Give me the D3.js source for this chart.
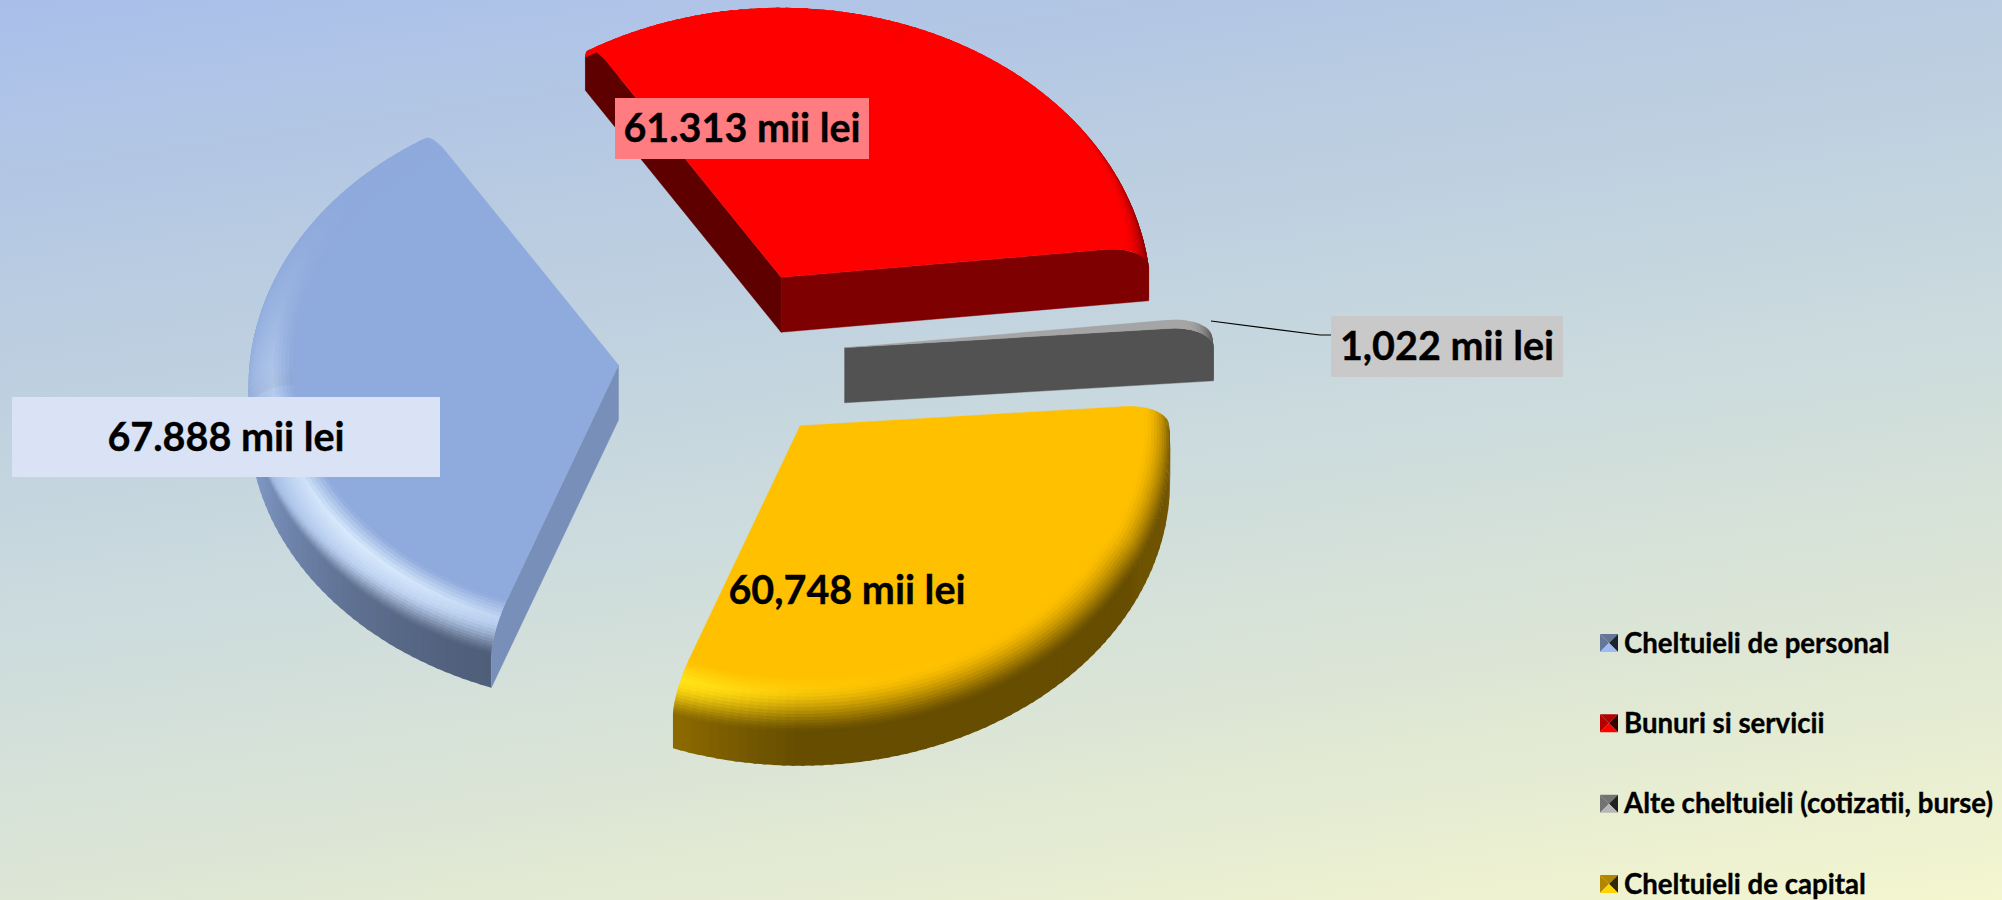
<!DOCTYPE html>
<html>
<head>
<meta charset="utf-8">
<script src="https://d3js.org/d3.v7.min.js"></script>
<style>
  html, body { margin: 0; padding: 0; overflow: hidden; }
  text { font-family: Lato, "Open Sans", sans-serif; font-weight: 700; fill: #000; stroke: #000; stroke-width: 0.35px; }
</style>
</head>
<body>
<svg id="mainsvg" width="2002" height="900"></svg>
<script>
const categories = ['Cheltuieli de personal', 'Bunuri si servicii', 'Alte cheltuieli (cotizatii, burse)', 'Cheltuieli de capital']
const values = [67.888, 61.313, 1.022, 60.748]
const valueLabels = ['67.888 mii lei', '61.313 mii lei', '1,022 mii lei', '60,748 mii lei']
const sliceColors = ['#8faadc', '#ff0000', '#a5a5a5', '#ffc000']
const labelFills = ['#dae3f5', '#ff7c80', '#c9c9c9', 'none']

const svg = d3.select('#mainsvg')
const width = +svg.attr('width')
const height = +svg.attr('height')

const rad = deg => deg * Math.PI / 180
const firstAngle = 200.1
const center = { x: 731.5, y: 356 }
const explode = 0.307
const rimStart = 0.88
const bevelDrop = 22
const depth = 55

// the pie is lying down: x and y radius differ
const rx = d3.scaleLinear().domain([0, 1]).range([0, 370])
const ry = d3.scaleLinear().domain([0, 1]).range([0, 285])

const pie = d3.pie().sort(null).startAngle(rad(firstAngle)).endAngle(rad(firstAngle + 360))
const slices = pie(values)
const line = d3.line()

const defs = svg.append('defs')
const bg = defs.append('linearGradient').attr('id', 'bg')
  .attr('gradientUnits', 'userSpaceOnUse')
  .attr('x1', 0).attr('y1', 0).attr('x2', 176).attr('y2', 1174)
bg.selectAll('stop')
  .data([[0, '#a9bfea'], [0.25, '#b9cce1'], [0.5, '#cadade'], [0.75, '#dde6d5'], [1, '#f4f6cf']])
  .join('stop')
  .attr('offset', d => d[0]).attr('stop-color', d => d[1])
svg.append('rect').attr('width', width).attr('height', height).attr('fill', 'url(#bg)')

function smooth(a, b, t) {
  const u = Math.max(0, Math.min(1, (t - a) / (b - a)))
  return u * u * (3 - 2 * u)
}

function project(d, angle, r, z) {
  const mid = (d.startAngle + d.endAngle) / 2
  const x = center.x + rx(explode * Math.sin(mid)) + rx(r * Math.sin(angle))
  const y = center.y - ry(explode * Math.cos(mid)) - ry(r * Math.cos(angle)) + z
  return [x, y]
}

function bevelColor(base, angle, t) {
  const dx = Math.sin(angle), dy = -Math.cos(angle)
  const w = Math.max(0, dx * -0.75 + dy * 0.66)
  const bump = t < 0.3 ? t / 0.3 : Math.pow((1 - t) / 0.7, 0.8)
  const hl = Math.pow(w, 3) * bump
  const weight = Math.min(1, Math.max(0, dx * 0.6 + dy, dx * 0.9 + dy * 0.3, dy * 0.8))
  const dk = weight * smooth(0.15 + (1 - weight) * 0.9, 1, t)
  const c = d3.rgb(base)
  const channel = v => {
    const lit = v + hl * 0.9 * (255 - v) * (v / 255 + 0.15)
    return lit * (1 - dk * 0.6)
  }
  return d3.rgb(channel(c.r), channel(c.g), channel(c.b)).formatHex()
}

function cutColor(base, nx) {
  const f = nx > 0.12 ? 0.5 + 0.415 * (nx - 0.12) : 0.5 + 0.13 * (nx - 0.12)
  const c = d3.rgb(base)
  return d3.rgb(c.r * f, c.g * f, c.b * f).formatHex()
}

const profile = d3.range(0, 19).map(i => i / 18 * Math.PI / 2)
const rimR = a => rimStart + (1 - rimStart) * Math.sin(a)
const rimZ = a => bevelDrop * (1 - Math.cos(a))

function angleSteps(d) {
  const n = Math.max(3, Math.ceil((d.endAngle - d.startAngle) / rad(1.5)))
  return d3.range(0, n + 1).map(i => d.startAngle + (d.endAngle - d.startAngle) * i / n)
}

function cutWall(d, angle) {
  const pts = [project(d, angle, 0, 0)]
  profile.forEach(a => pts.push(project(d, angle, rimR(a), rimZ(a))))
  pts.push(project(d, angle, 1, depth), project(d, angle, 0, depth))
  return pts
}

const pieG = svg.append('g').attr('id', 'pie')

slices.forEach((d, i) => {
  const base = sliceColors[i]
  const g = pieG.append('g')
  const steps = angleSteps(d)
  const pairs = d3.pairs(steps)
  // cells overlap the next one a little so no seams show
  const over = p => Math.min(d.endAngle, p + rad(0.6))

  // outer wall, it ends up behind the top on the far side
  g.selectAll('path.wall').data(pairs).join('path').attr('class', 'wall')
    .attr('d', p => line([project(d, p[0], 1, bevelDrop - 1), project(d, over(p[1]), 1, bevelDrop - 1),
      project(d, over(p[1]), 1, depth), project(d, p[0], 1, depth)]) + 'Z')
    .attr('fill', p => bevelColor(base, (p[0] + p[1]) / 2, 1))

  // cut faces, only those turned to the viewer
  const cuts = [
    { angle: d.startAngle, normal: d.startAngle - Math.PI / 2 },
    { angle: d.endAngle, normal: d.endAngle + Math.PI / 2 }
  ].filter(c => -Math.cos(c.normal) > 0)
  g.selectAll('path.cut').data(cuts).join('path').attr('class', 'cut')
    .attr('d', c => line(cutWall(d, c.angle)) + 'Z')
    .attr('fill', c => cutColor(base, Math.sin(c.normal)))
    .attr('stroke', c => cutColor(base, Math.sin(c.normal)))
    .attr('stroke-width', 0.4)

  // rounded rim, outer rings first
  const cells = []
  d3.pairs(profile).reverse().forEach(a => pairs.forEach(p => cells.push({ a0: a[0], a1: a[1], p0: p[0], p1: p[1] })))
  g.selectAll('path.rim').data(cells).join('path').attr('class', 'rim')
    .attr('d', c => {
      const a0 = c.a0 - 0.03
      return line([project(d, c.p0, rimR(a0), rimZ(a0)), project(d, over(c.p1), rimR(a0), rimZ(a0)),
        project(d, over(c.p1), rimR(c.a1), rimZ(c.a1)), project(d, c.p0, rimR(c.a1), rimZ(c.a1))]) + 'Z'
    })
    .attr('fill', c => bevelColor(base, (c.p0 + c.p1) / 2, (c.a0 + c.a1) / Math.PI))

  // flat top
  g.append('path')
    .attr('d', line([project(d, 0, 0, 0)].concat(steps.map(a => project(d, a, rimStart, 0)))) + 'Z')
    .attr('fill', base).attr('stroke', base).attr('stroke-width', 0.3)
})

// leader line of the small slice
svg.append('path')
  .attr('d', line([[1211, 321], [1320, 335], [1331, 335]]))
  .attr('fill', 'none').attr('stroke', '#000').attr('stroke-width', 1.2)

const labelBoxes = [
  { x: 12, y: 397, w: 428, h: 80 },
  { x: 615, y: 98, w: 254, h: 61 },
  { x: 1331, y: 316, w: 232, h: 61 },
  { x: 716, y: 560, w: 262, h: 61 }
]
const labels = svg.append('g').attr('id', 'labels').selectAll('g').data(valueLabels).join('g')
labels.append('rect')
  .attr('x', (d, i) => labelBoxes[i].x).attr('y', (d, i) => labelBoxes[i].y)
  .attr('width', (d, i) => labelBoxes[i].w).attr('height', (d, i) => labelBoxes[i].h)
  .attr('fill', (d, i) => labelFills[i])
labels.append('text')
  .attr('x', (d, i) => labelBoxes[i].x + labelBoxes[i].w / 2)
  .attr('y', (d, i) => labelBoxes[i].y + labelBoxes[i].h / 2)
  .attr('dy', '0.35em').attr('text-anchor', 'middle')
  .style('font-size', '39.5px')
  .text(d => d)

// legend, the keys are little pyramids
const legendY = d3.scalePoint().domain(categories).range([643, 884])
const legend = svg.append('g').attr('id', 'legend').selectAll('g').data(categories).join('g')
  .attr('transform', d => `translate(1600, ${legendY(d)})`)
const s = 9
const faces = [
  { pts: [[-s, -s], [s, -s], [0, 0]], f: 0.7 },
  { pts: [[-s, -s], [-s, s], [0, 0]], f: 0.7 },
  { pts: [[s, -s], [s, s], [0, 0]], f: 0.2 },
  { pts: [[-s, s], [s, s], [0, 0]], f: 1.1 }
]
legend.each(function (d, i) {
  const c = d3.rgb(sliceColors[i])
  d3.select(this).selectAll('path').data(faces).join('path')
    .attr('transform', `translate(${s}, 0)`)
    .attr('d', q => line(q.pts) + 'Z')
    .attr('fill', q => d3.rgb(Math.min(255, c.r * q.f), Math.min(255, c.g * q.f), Math.min(255, c.b * q.f)).formatHex())
})
legend.append('text').attr('x', 24).attr('dy', '0.35em')
  .style('font-size', '27.6px').text(d => d)
</script>
</body>
</html>
